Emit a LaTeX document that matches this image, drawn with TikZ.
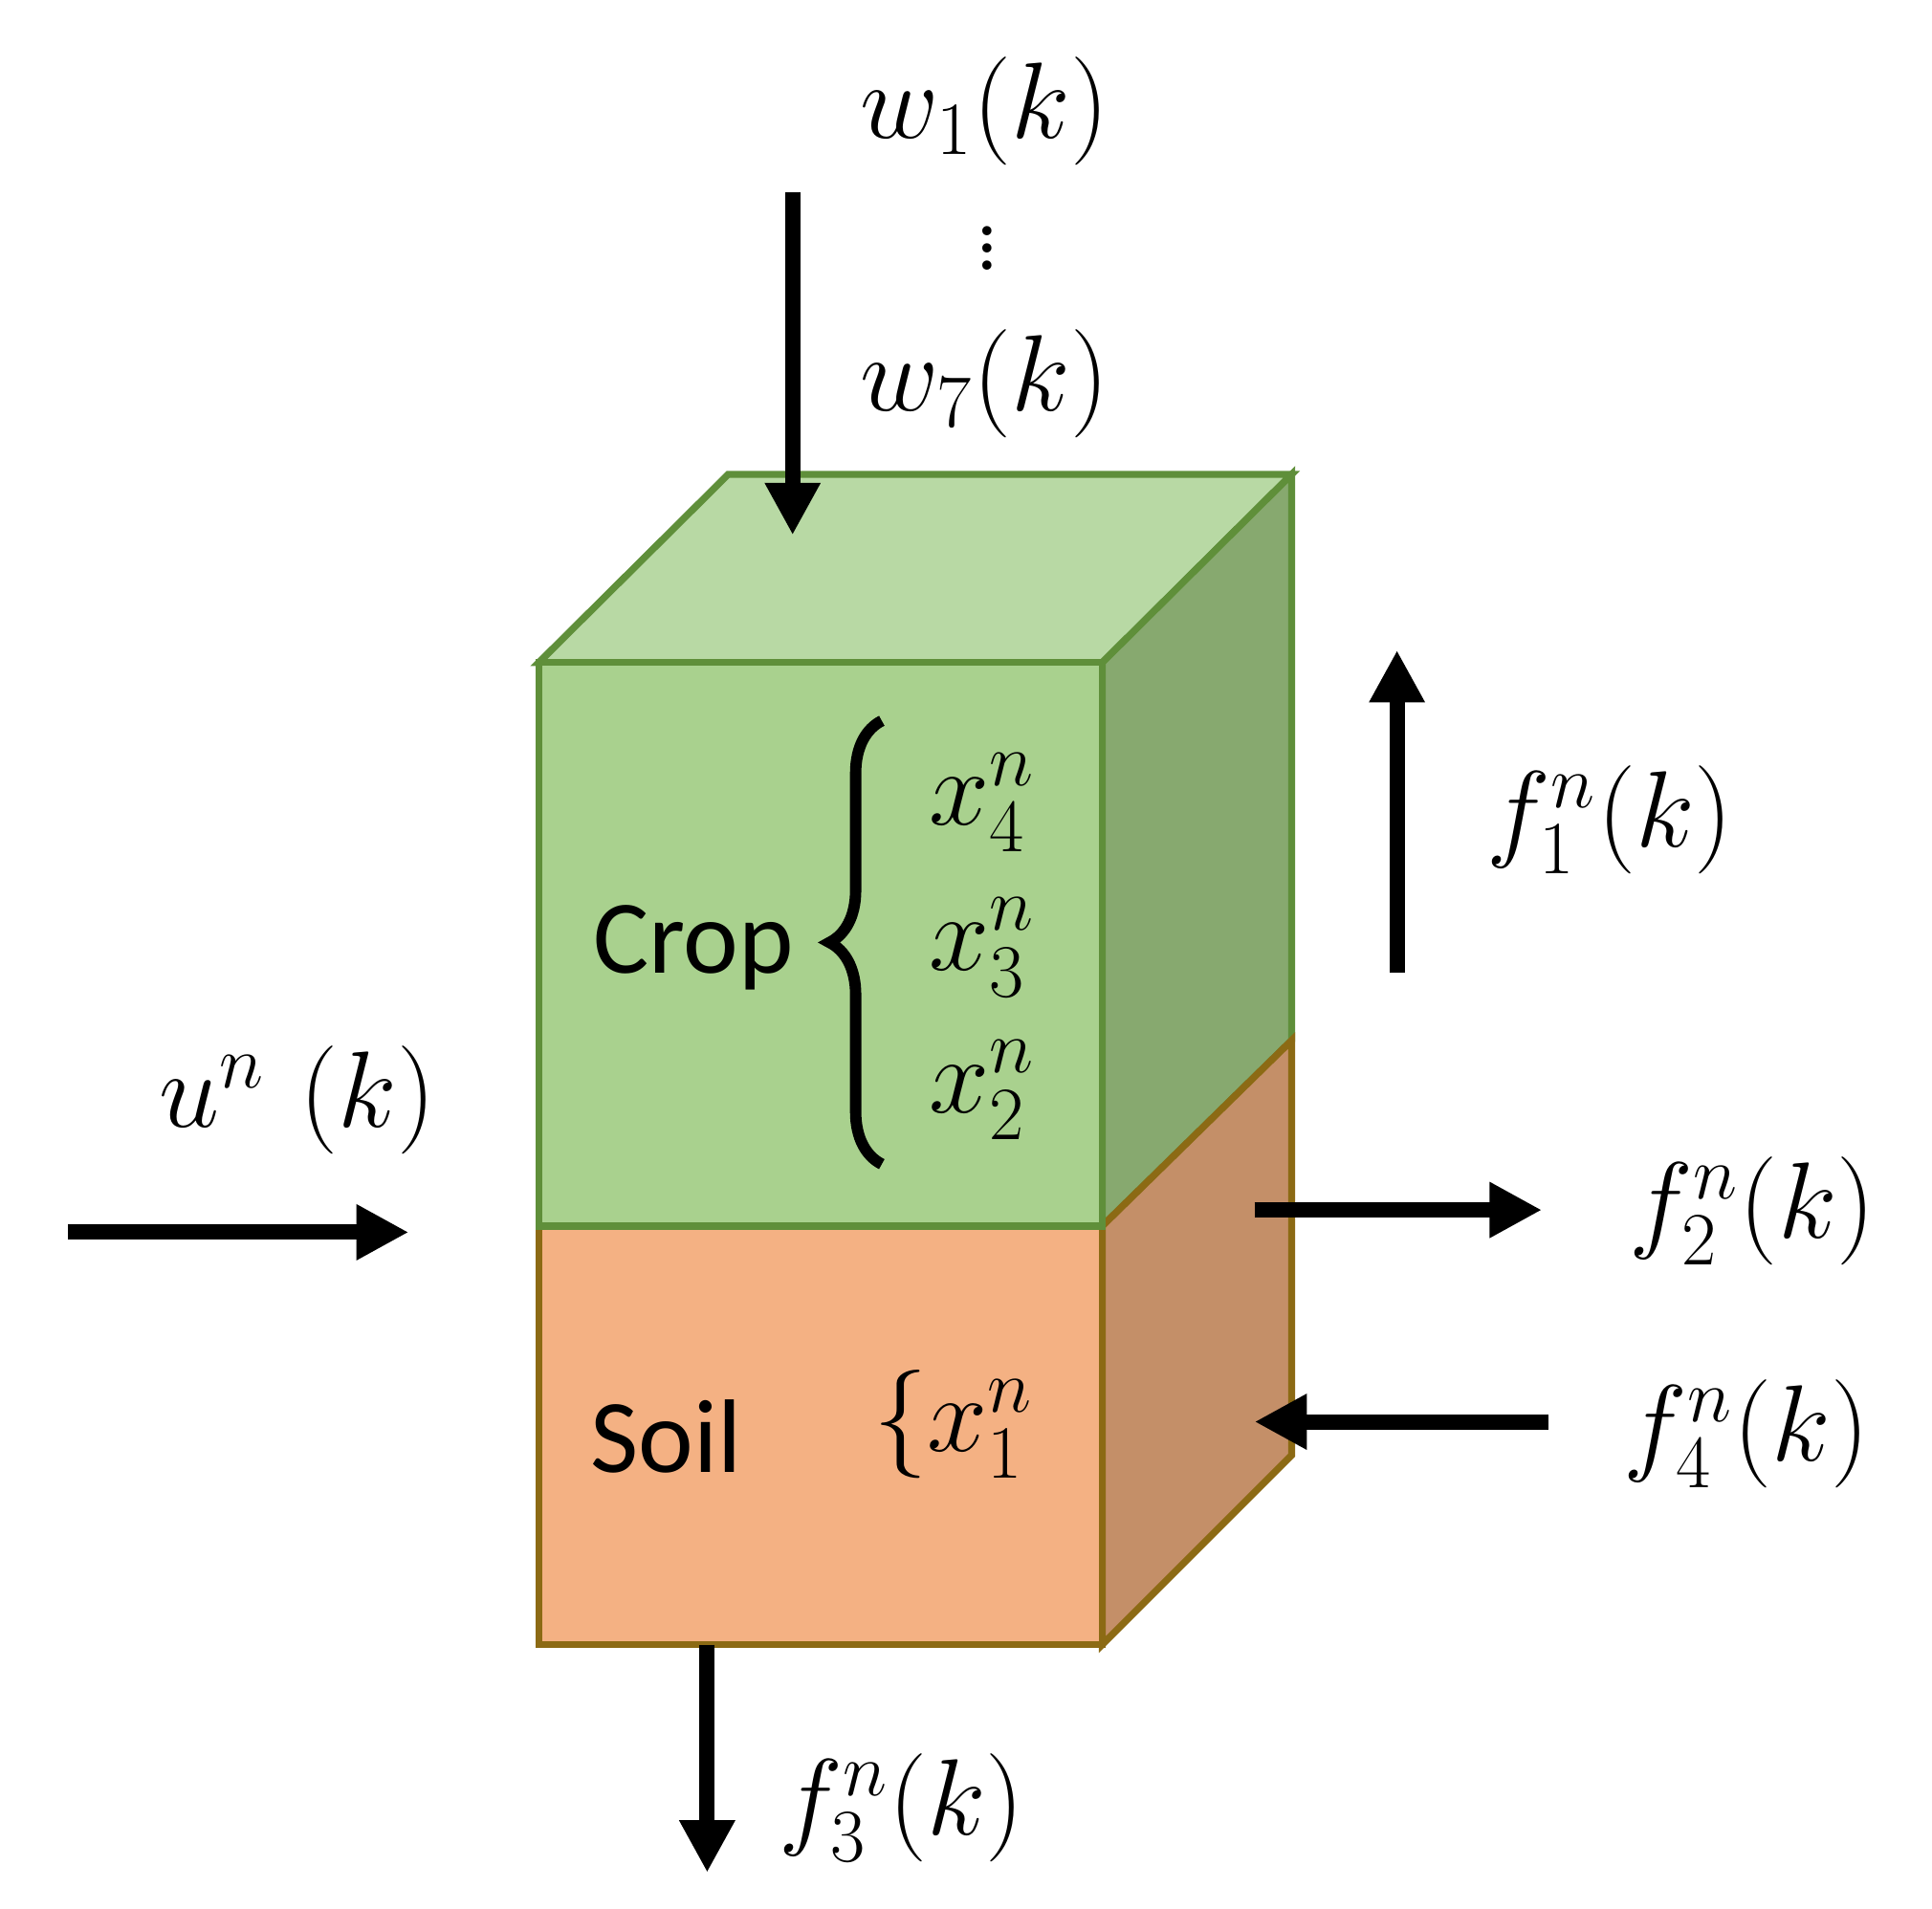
\documentclass[tikz,border=0pt]{standalone}
\usepackage{fontspec}
\newfontfamily\calib{Carlito}
\usetikzlibrary{arrows.meta,decorations.pathreplacing}
\definecolor{topg}{HTML}{B8D9A4}
\definecolor{frontg}{HTML}{A9D18E}
\definecolor{sideg}{HTML}{87A96F}
\definecolor{bordg}{HTML}{5F8F3A}
\definecolor{fronts}{HTML}{F4B183}
\definecolor{sides}{HTML}{C48F68}
\definecolor{bords}{HTML}{8C6A14}
\tikzset{flow/.style={line width=3.5pt,-{Triangle[length=12pt,width=12pt]}},
 lab/.style={font=\fontsize{26}{30}\selectfont},
 face/.style={line width=1.6pt,line join=miter}}
\begin{document}
\begin{tikzpicture}[x=0.01cm,y=-0.01cm]
\useasboundingbox (0,0) rectangle (1560,1541);
% faces
\draw[face,fill=topg,draw=bordg] (435,535)--(588,383)--(1043,383)--(890,535)--cycle;
\draw[face,fill=sideg,draw=bordg] (890,535)--(1043,383)--(1043,840)--(890,990)--cycle;
\draw[face,fill=sides,draw=bords] (890,990)--(1043,840)--(1043,1175)--(890,1328)--cycle;
\draw[face,fill=fronts,draw=bords] (435,990) rectangle (890,1328);
\draw[face,fill=frontg,draw=bordg] (435,535) rectangle (890,990);
% texts
\node[font=\calib\fontsize{24}{28}\selectfont] (crop) at (560,765) {Crop};
\coordinate (bra) at (712,940); \coordinate (brb) at (712,582);
\draw[line width=2.6pt,decorate,decoration={brace,amplitude=12pt,aspect=0.5}] (bra)--(brb);
\node[lab] (x4) at (793,648) {$x_4^n$};
\node[lab] (x3) at (793,765) {$x_3^n$};
\node[lab] (x2) at (793,880) {$x_2^n$};
\node[font=\calib\fontsize{24}{28}\selectfont] (soil) at (538,1160) {Soil};
\node[lab] (x1) at (770,1150) {$\{x_1^n$};
% arrows
\coordinate (wa) at (640,155); \coordinate (wb) at (640,432);
\draw[flow] (wa)--(wb);
\node[lab] (w1) at (795,90) {$w_1(k)$};
\node[lab] (vd) at (797,190) {$\vdots$};
\node[lab] (w7) at (795,310) {$w_7(k)$};
\coordinate (f1a) at (1128,785); \coordinate (f1b) at (1128,525);
\draw[flow] (f1a)--(f1b);
\node[lab] (f1) at (1300,662) {$f_1^n(k)$};
\coordinate (f2a) at (1013,977); \coordinate (f2b) at (1245,977);
\draw[flow] (f2a)--(f2b);
\node[lab] (f2) at (1415,978) {$f_2^n(k)$};
\coordinate (f4a) at (1250,1148); \coordinate (f4b) at (1013,1148);
\draw[flow] (f4a)--(f4b);
\node[lab] (f4) at (1410,1158) {$f_4^n(k)$};
\coordinate (f3a) at (571,1328); \coordinate (f3b) at (571,1512);
\draw[flow] (f3a)--(f3b);
\node[lab] (f3) at (728,1460) {$f_3^n(k)$};
\coordinate (ua) at (55,995); \coordinate (ub) at (330,995);
\draw[flow] (ua)--(ub);
\node[lab] (u) at (240,888) {$u^n\ (k)$};
\end{tikzpicture}
\end{document}
